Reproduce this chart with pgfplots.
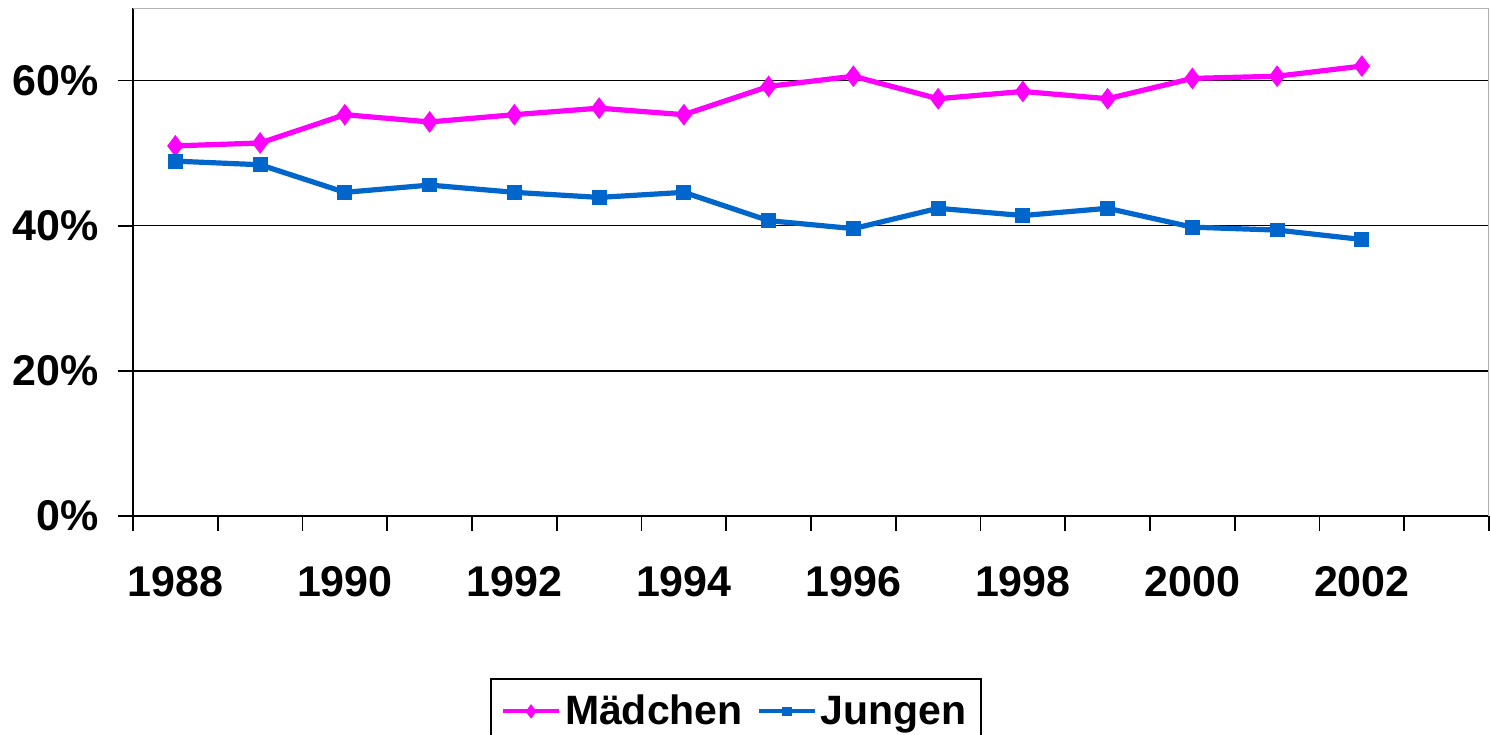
\documentclass[border=0pt]{standalone}
\usepackage{pgfplots}
\pgfplotsset{compat=1.18}
\usepackage{fontspec}
\setmainfont{Liberation Sans}
\definecolor{mag}{HTML}{FF00FF}
\definecolor{blu}{HTML}{0066CC}
\begin{document}
\begin{tikzpicture}
\begin{axis}[name=ax, width=678pt, height=254pt, scale only axis,
  xmin=-0.5, xmax=15.5, ymin=0, ymax=70,
  axis lines*=left, axis line style={line width=0.8pt, -, black},
  tick align=outside,
  xtick={0,2,4,6,8,10,12,14},
  xticklabels={1988,1990,1992,1994,1996,1998,2000,2002},
  minor xtick={-0.5,0.5,...,15.5},
  major x tick style={draw=none},
  minor tick length=7.5pt, major tick length=7.5pt,
  every tick/.style={black, line width=0.8pt},
  ytick={0,20,40,60},
  yticklabels={0\%,20\%,40\%,60\%},
  ymajorgrids, grid style={black, line width=0.7pt},
  ticklabel style={font=\fontsize{21.5}{24}\selectfont\bfseries},
  xticklabel style={yshift=-14pt},
  yticklabel style={xshift=-6pt},
  legend columns=2,
  legend style={at={(0.2633,-0.319)}, anchor=north west, draw=black, line width=1pt,
    font=\fontsize{20.5}{24}\selectfont\bfseries, inner xsep=5pt, inner ysep=6pt,
    /tikz/every even column/.append style={column sep=5pt}},
  legend image code/.code={\draw[mark repeat=2, mark phase=2, line width=2pt, mark options={solid, scale=0.6}] plot coordinates {(0pt,0pt) (14pt,0pt) (28pt,0pt)};},
]
\addplot[mag, line width=2.6pt, mark=diamond*, mark size=3.3pt, mark options={solid}] coordinates {
(0,51.0) (1,51.4) (2,55.3) (3,54.3) (4,55.3) (5,56.2) (6,55.3) (7,59.2)
(8,60.6) (9,57.5) (10,58.5) (11,57.5) (12,60.3) (13,60.6) (14,62.0)};
\addlegendentry{Mädchen}
\addplot[blu, line width=2.6pt, mark=square*, mark size=2.4pt, mark options={solid}] coordinates {
(0,48.9) (1,48.4) (2,44.6) (3,45.6) (4,44.6) (5,43.9) (6,44.6) (7,40.7)
(8,39.6) (9,42.4) (10,41.4) (11,42.4) (12,39.8) (13,39.4) (14,38.1)};
\addlegendentry{Jungen}
\draw[gray!60, line width=0.8pt] (rel axis cs:0,1) -- (rel axis cs:1,1) -- (rel axis cs:1,0);
\end{axis}
\pgfresetboundingbox
\useasboundingbox ([xshift=-66.5pt,yshift=-109pt]ax.south west) rectangle ([xshift=0.5pt,yshift=4pt]ax.north east);
\end{tikzpicture}
\end{document}
